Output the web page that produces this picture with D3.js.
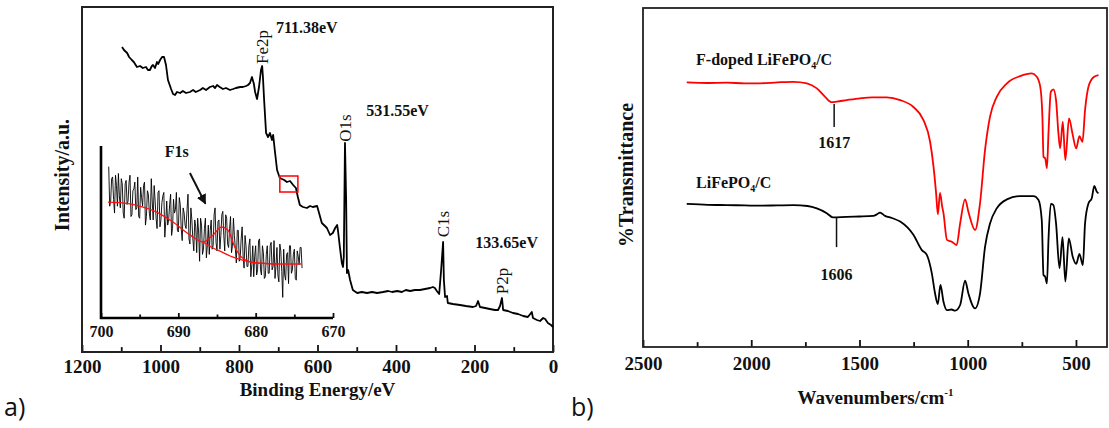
<!DOCTYPE html>
<html>
<head>
<meta charset="utf-8">
<script src="https://cdn.jsdelivr.net/npm/d3@7"></script>
<style>
  body { margin: 0; background: #fff; }
  svg { display: block; }
  svg text { font-family: "Liberation Serif", "Times New Roman", serif; }
</style>
</head>
<body>
<svg width="1109" height="428"></svg>
<script>
// ---- a) XPS survey spectrum (binding energy / eV, intensity a.u.)
var xpsEnergy = [1098, 1093, 1085, 1080, 1073, 1068, 1060, 1052, 1045, 1037, 1032, 1027, 1022, 1019, 1014, 1009, 1006, 1001, 996, 991,
  986, 981, 973, 968, 963, 958, 950, 943, 935, 925, 917, 910, 899, 892, 884, 874, 866, 861, 856, 849,
  841, 833, 823, 815, 808, 797, 790, 782, 777, 772, 767, 762, 759, 754, 749, 744, 741, 739, 736, 731,
  726, 721, 716, 713, 708, 703, 696, 685, 678, 670, 662, 655, 650, 645, 637, 627, 619, 612, 601, 596,
  589, 581, 576, 568, 561, 555, 550, 548, 543, 538, 535, 533, 530, 527, 525, 522, 517, 510, 499, 487,
  474, 461, 448, 433, 420, 410, 397, 385, 375, 364, 352, 339, 326, 313, 306, 301, 296, 290, 285, 280,
  278, 275, 270, 268, 255, 237, 222, 204, 196, 191, 186, 173, 161, 148, 140, 135, 130, 127, 115, 102,
  89, 76, 64, 56, 54, 51, 41, 33, 25, 20, 13, 5, 0];
var xpsIntensity = [305, 302, 299, 295, 292, 290, 285, 286, 284, 285, 282, 282, 286, 287, 284, 290, 288, 292, 295, 295,
  287, 272, 263, 258, 257, 260, 259, 261, 259, 260, 262, 260, 262, 264, 262, 265, 266, 264, 267, 265,
  263, 264, 262, 263, 264, 265, 265, 266, 267, 269, 275, 268, 260, 253, 265, 282, 286, 275, 252, 219,
  215, 219, 212, 217, 199, 182, 174, 172, 170, 171, 167, 164, 155, 147, 145, 144, 146, 145, 146, 139,
  129, 126, 124, 117, 119, 124, 127, 122, 105, 89, 85, 95, 209, 152, 79, 82, 72, 62, 59, 60,
  59, 60, 59, 60, 61, 60, 61, 60, 62, 61, 62, 62, 63, 64, 65, 64, 61, 58, 82, 110,
  72, 55, 56, 49, 48, 47, 46, 45, 46, 51, 45, 44, 43, 42, 42, 46, 54, 42, 41, 39,
  38, 36, 35, 39, 40, 34, 32, 31, 34, 33, 29, 27, 25];
var xpsTicks = [1200, 1000, 800, 600, 400, 200, 0];
var xpsMinorTicks = [1100, 900, 700, 500, 300, 100];

// inset: F1s region
var f1sEnergy = [
  699, 698.875, 698.75, 698.625, 698.5, 698.375, 698.25, 698.125,
  698, 697.875, 697.75, 697.625, 697.5, 697.375, 697.25, 697.125,
  697, 696.875, 696.75, 696.625, 696.5, 696.375, 696.25, 696.125,
  696, 695.875, 695.75, 695.625, 695.5, 695.375, 695.25, 695.125,
  695, 694.875, 694.75, 694.625, 694.5, 694.375, 694.25, 694.125,
  694, 693.875, 693.75, 693.625, 693.5, 693.375, 693.25, 693.125,
  693, 692.875, 692.75, 692.625, 692.5, 692.375, 692.25, 692.125,
  692, 691.875, 691.75, 691.625, 691.5, 691.375, 691.25, 691.125,
  691, 690.875, 690.75, 690.625, 690.5, 690.375, 690.25, 690.125,
  690, 689.875, 689.75, 689.625, 689.5, 689.375, 689.25, 689.125,
  689, 688.875, 688.75, 688.625, 688.5, 688.375, 688.25, 688.125,
  688, 687.875, 687.75, 687.625, 687.5, 687.375, 687.25, 687.125,
  687, 686.875, 686.75, 686.625, 686.5, 686.375, 686.25, 686.125,
  686, 685.875, 685.75, 685.625, 685.5, 685.375, 685.25, 685.125,
  685, 684.875, 684.75, 684.625, 684.5, 684.375, 684.25, 684.125,
  684, 683.875, 683.75, 683.625, 683.5, 683.375, 683.25, 683.125,
  683, 682.875, 682.75, 682.625, 682.5, 682.375, 682.25, 682.125,
  682, 681.875, 681.75, 681.625, 681.5, 681.375, 681.25, 681.125,
  681, 680.875, 680.75, 680.625, 680.5, 680.375, 680.25, 680.125,
  680, 679.875, 679.75, 679.625, 679.5, 679.375, 679.25, 679.125,
  679, 678.875, 678.75, 678.625, 678.5, 678.375, 678.25, 678.125,
  678, 677.875, 677.75, 677.625, 677.5, 677.375, 677.25, 677.125,
  677, 676.875, 676.75, 676.625, 676.5, 676.375, 676.25, 676.125,
  676, 675.875, 675.75, 675.625, 675.5, 675.375, 675.25, 675.125,
  675, 674.875, 674.75, 674.625, 674.5, 674.375, 674.25, 674.125,
  674];
var f1sCounts = [
  88, 65, 68, 81, 82, 69, 61, 83, 77, 65, 84, 71, 64, 81, 78, 61,
  58, 78, 80, 66, 68, 79, 83, 59, 60, 74, 75, 79, 63, 64, 82, 59,
  58, 76, 70, 65, 77, 79, 54, 59, 74, 72, 61, 57, 81, 68, 57, 77,
  68, 58, 52, 73, 74, 53, 57, 67, 71, 73, 47, 56, 68, 54, 57, 66,
  72, 48, 52, 69, 61, 63, 73, 51, 50, 70, 66, 52, 45, 64, 61, 54,
  52, 63, 72, 46, 43, 64, 57, 46, 39, 57, 53, 38, 58, 50, 33, 58,
  54, 37, 40, 52, 58, 35, 42, 54, 37, 51, 57, 40, 42, 60, 64, 44,
  39, 56, 57, 40, 48, 60, 62, 48, 39, 60, 58, 43, 41, 52, 59, 38,
  42, 58, 48, 40, 32, 51, 51, 33, 35, 46, 53, 36, 29, 48, 42, 30,
  30, 42, 46, 24, 31, 42, 24, 36, 42, 25, 28, 45, 46, 28, 25, 42,
  38, 23, 24, 37, 42, 26, 26, 42, 44, 28, 30, 45, 23, 30, 41, 25,
  21, 43, 39, 27, 12, 40, 25, 22, 37, 38, 20, 42, 42, 26, 28, 37,
  40, 23, 22, 39, 36, 31, 41, 41, 29];
var fitEnergy = [699.1, 697.2, 695.0, 692.8, 690.7, 688.5, 686.8, 685.5, 684.4, 683.6, 682.7, 681.7, 679.9, 677.3, 674.1];
var fitCounts = [67.4, 66.9, 65.1, 61.6, 55.8, 48.3, 44.2, 48.3, 52.9, 51.2, 41.3, 34.9, 32.0, 31.4, 31.4];
var baseEnergy = [686.8, 685.5, 684.4, 683.0, 681.7, 680.0, 677.3];
var baseCounts = [44.2, 40.7, 38.4, 35.5, 33.7, 32.0, 31.4];
var insetTicks = [700, 690, 680, 670];
var insetMinorTicks = [695, 685, 675];

// ---- b) FTIR spectra (wavenumber / cm-1, transmittance)
var waveDoped = [2298, 2200, 2113, 2030, 1959, 1880, 1805, 1743, 1697, 1659, 1628, 1605, 1559, 1497, 1440, 1405, 1374, 1312, 1251, 1205,
  1174, 1158, 1146, 1138, 1128, 1118, 1112, 1096, 1074, 1051, 1035, 1012, 997, 966, 943, 920, 897, 866, 819, 758,
  704, 681, 665, 655, 650, 642, 634, 627, 616, 604, 592, 581, 573, 561, 549, 532, 515, 499, 484, 470,
  458, 442, 419, 396];
var transDoped = [88.2, 88.0, 88.1, 87.9, 87.9, 88.2, 88.4, 87.9, 86.2, 83.4, 81.6, 81.8, 82.3, 82.9, 83.2, 83.2, 83.2, 82.3, 80.0, 75.7,
  68.5, 60.1, 51.2, 44.2, 51.4, 46.8, 44.6, 35.7, 35.1, 34.0, 41.2, 49.2, 45.1, 39.0, 48.0, 65.7, 76.8, 83.4, 87.9, 90.3,
  91.2, 90.1, 86.8, 76.8, 63.4, 62.9, 59.6, 71.2, 85.1, 85.9, 82.3, 71.2, 66.2, 75.1, 62.3, 76.2, 70.7, 66.2, 70.3, 68.4,
  79.0, 86.8, 89.9, 90.6];
var wavePure = [2298, 2200, 2113, 2030, 1959, 1880, 1805, 1740, 1697, 1651, 1623, 1559, 1500, 1436, 1420, 1405, 1382, 1350, 1312, 1251,
  1212, 1189, 1166, 1151, 1138, 1126, 1112, 1096, 1075, 1058, 1035, 1012, 997, 966, 943, 920, 897, 866, 819, 758,
  696, 673, 658, 650, 642, 634, 627, 616, 604, 592, 576, 562, 549, 533, 515, 499, 484, 468, 458, 442,
  427, 415, 404, 396];
var transPure = [47.7, 47.4, 47.3, 47.2, 47.1, 47.2, 47.3, 47.0, 46.2, 44.6, 43.2, 43.4, 43.5, 43.7, 44.2, 44.8, 43.7, 43.0, 41.8, 37.4,
  32.3, 30.7, 24.6, 17.9, 14.3, 20.7, 15.1, 12.3, 12.5, 12.1, 14.0, 22.1, 17.9, 12.9, 17.9, 33.4, 41.2, 46.2, 49.2, 50.3,
  50.3, 49.0, 42.3, 24.0, 23.4, 21.2, 35.7, 47.7, 47.3, 41.2, 26.2, 36.6, 21.8, 36.2, 30.1, 27.7, 31.0, 27.3, 41.2, 47.9,
  49.6, 53.7, 51.8, 51.2];
var ftirTicks = [2500, 2000, 1500, 1000, 500];
var ftirMinorTicks = [2250, 1750, 1250, 750];

var svg = d3.select("svg");

function zip(a, b) { return a.map(function (d, i) { return [d, b[i]]; }); }

// ticks point inward (up), minor ticks unlabeled in their own group
function bottomAxis(g, scale, major, minor, size, pad, fontSize) {
  g.append("g").call(d3.axisBottom(scale).tickValues(minor).tickSize(-size * 0.7).tickFormat(""));
  var gm = g.append("g").call(d3.axisBottom(scale).tickValues(major).tickSize(-size).tickPadding(pad)
    .tickFormat(d3.format("d")));
  g.selectAll(".domain").remove();
  g.selectAll("line").attr("stroke", "#111").attr("stroke-width", 1.8);
  gm.selectAll("text")
    .attr("fill", "#111")
    .style("font-family", "'Liberation Serif', serif")
    .style("font-weight", "bold")
    .style("font-size", fontSize + "px");
}

// ================= panel a =================
var xA = d3.scaleLinear().domain([1200, 0]).range([82, 553]);
var yA = d3.scaleLinear().domain([0, 345]).range([352, 7]);

var gA = svg.append("g");
bottomAxis(gA.append("g").attr("transform", "translate(0,352)"), xA, xpsTicks, xpsMinorTicks, 7, 8, 19);

gA.append("rect")
  .attr("x", xA(1200)).attr("y", yA(345))
  .attr("width", xA(0) - xA(1200)).attr("height", yA(0) - yA(345))
  .attr("fill", "none").attr("stroke", "#222").attr("stroke-width", 2);

var lineA = d3.line().x(function (d) { return xA(d[0]); }).y(function (d) { return yA(d[1]); });
gA.append("path")
  .datum(zip(xpsEnergy, xpsIntensity))
  .attr("d", lineA)
  .attr("fill", "none").attr("stroke", "#000").attr("stroke-width", 1.8).attr("stroke-linejoin", "round");

// red box marking the F1s region
gA.append("rect")
  .attr("x", xA(696)).attr("y", yA(176))
  .attr("width", xA(650) - xA(696)).attr("height", yA(160) - yA(176))
  .attr("fill", "none").attr("stroke", "#ff0000").attr("stroke-width", 1.5);

function peakLabel(text, e, inten) {
  gA.append("text")
    .attr("transform", "translate(" + xA(e) + "," + yA(inten) + ") rotate(-90)")
    .attr("text-anchor", "middle").attr("dy", "0.35em")
    .attr("font-size", 17).attr("fill", "#111").text(text);
}
peakLabel("Fe2p", 741, 305);
peakLabel("O1s", 530, 224);
peakLabel("C1s", 280, 128);
peakLabel("P2p", 130, 71);

function evLabel(text, e, inten) {
  gA.append("text")
    .attr("x", xA(e)).attr("y", yA(inten))
    .attr("font-size", 16).attr("font-weight", "bold").attr("fill", "#111").text(text);
}
evLabel("711.38eV", 706, 319);
evLabel("531.55eV", 476, 236);
evLabel("133.65eV", 198, 104);

gA.append("text")
  .attr("x", (xA(1200) + xA(0)) / 2).attr("y", 396)
  .attr("text-anchor", "middle").attr("font-size", 19).attr("font-weight", "bold").attr("fill", "#111")
  .text("Binding Energy/eV");
gA.append("text")
  .attr("transform", "translate(62,175) rotate(-90)")
  .attr("text-anchor", "middle").attr("dy", "0.35em")
  .attr("font-size", 20).attr("font-weight", "bold").attr("fill", "#111")
  .text("Intensity/a.u.");

// ---- inset
var xI = d3.scaleLinear().domain([700, 670]).range([101, 333]);
var yI = d3.scaleLinear().domain([0, 100]).range([318, 146]);
var gI = svg.append("g");

bottomAxis(gI.append("g").attr("transform", "translate(0,318)"), xI, insetTicks, insetMinorTicks, 5, 8, 16);
gI.append("path")
  .attr("d", "M" + xI(700) + "," + yI(100) + "V" + yI(0) + "H" + xI(670))
  .attr("fill", "none").attr("stroke", "#000").attr("stroke-width", 2.6);

var lineI = d3.line().x(function (d) { return xI(d[0]); }).y(function (d) { return yI(d[1]); });
gI.append("path")
  .datum(zip(f1sEnergy, f1sCounts))
  .attr("d", lineI)
  .attr("fill", "none").attr("stroke", "#000").attr("stroke-width", 0.9);
var smoothI = d3.line().x(function (d) { return xI(d[0]); }).y(function (d) { return yI(d[1]); })
  .curve(d3.curveMonotoneX);
gI.append("path")
  .datum(zip(baseEnergy, baseCounts))
  .attr("d", smoothI)
  .attr("fill", "none").attr("stroke", "#ff1010").attr("stroke-width", 1.3);
gI.append("path")
  .datum(zip(fitEnergy, fitCounts))
  .attr("d", smoothI)
  .attr("fill", "none").attr("stroke", "#ff1010").attr("stroke-width", 1.3);

svg.append("defs").append("marker")
  .attr("id", "head").attr("viewBox", "0 0 10 10").attr("refX", 9).attr("refY", 5)
  .attr("markerWidth", 5).attr("markerHeight", 5).attr("orient", "auto")
  .append("path").attr("d", "M0,0L10,5L0,10z").attr("fill", "#111");
gI.append("line")
  .attr("x1", xI(688.5)).attr("y1", yI(84.3))
  .attr("x2", xI(686.5)).attr("y2", yI(66.5))
  .attr("stroke", "#111").attr("stroke-width", 2).attr("marker-end", "url(#head)");
gI.append("text")
  .attr("x", xI(690.2)).attr("y", yI(93.5))
  .attr("text-anchor", "middle").attr("font-size", 16).attr("font-weight", "bold").attr("fill", "#111")
  .text("F1s");

// ================= panel b =================
var xB = d3.scaleLinear().domain([2500, 352]).range([643, 1108]);
var yB = d3.scaleLinear().domain([0, 113]).range([347, 8]);
var gB = svg.append("g");

bottomAxis(gB.append("g").attr("transform", "translate(0,347)"), xB, ftirTicks, ftirMinorTicks, 7, 10, 19);
gB.append("rect")
  .attr("x", xB(2500)).attr("y", yB(113))
  .attr("width", xB(352) - xB(2500) - 1).attr("height", yB(0) - yB(113))
  .attr("fill", "none").attr("stroke", "#222").attr("stroke-width", 1.8);

var lineB = d3.line().x(function (d) { return xB(d[0]); }).y(function (d) { return yB(d[1]); })
  .curve(d3.curveMonotoneX);
gB.append("path")
  .datum(zip(wavePure, transPure))
  .attr("d", lineB)
  .attr("fill", "none").attr("stroke", "#000").attr("stroke-width", 1.8);
gB.append("path")
  .datum(zip(waveDoped, transDoped))
  .attr("d", lineB)
  .attr("fill", "none").attr("stroke", "#ff0000").attr("stroke-width", 1.8);

// band markers: [wavenumber, line top, line bottom, label baseline]
[[1617, 81, 73.3, 148], [1606, 43.2, 33.3, 280]].forEach(function (m) {
  gB.append("line")
    .attr("x1", xB(m[0])).attr("x2", xB(m[0]))
    .attr("y1", yB(m[1])).attr("y2", yB(m[2]))
    .attr("stroke", "#111").attr("stroke-width", 1.5);
  gB.append("text")
    .attr("x", xB(m[0])).attr("y", m[3])
    .attr("text-anchor", "middle").attr("font-size", 16).attr("font-weight", "bold").attr("fill", "#111")
    .text(m[0]);
});

function sampleLabel(prefix, y) {
  var t = gB.append("text")
    .attr("x", xB(2255)).attr("y", y)
    .attr("font-size", 16).attr("font-weight", "bold").attr("fill", "#111");
  t.append("tspan").text(prefix + "LiFePO");
  t.append("tspan").attr("dy", 4).attr("font-size", 10).text("4");
  t.append("tspan").attr("dy", -4).text("/C");
}
sampleLabel("F-doped ", 65);
sampleLabel("", 188);

var xt = gB.append("text")
  .attr("x", (xB(2500) + xB(352)) / 2).attr("y", 404)
  .attr("text-anchor", "middle").attr("font-size", 19).attr("font-weight", "bold").attr("fill", "#111");
xt.append("tspan").text("Wavenumbers/cm");
xt.append("tspan").attr("dy", -8).attr("font-size", 11).text("-1");

gB.append("text")
  .attr("transform", "translate(626,175) rotate(-90)")
  .attr("text-anchor", "middle").attr("dy", "0.35em")
  .attr("font-size", 20).attr("font-weight", "bold").attr("fill", "#111")
  .text("%Transmittance");

// panel letters
svg.append("text").attr("x", 4).attr("y", 416)
  .style("font-family", "'Open Sans', sans-serif").attr("font-size", 25).attr("fill", "#111").text("a)");
svg.append("text").attr("x", 571).attr("y", 416)
  .style("font-family", "'Open Sans', sans-serif").attr("font-size", 25).attr("fill", "#111").text("b)");
</script>
</body>
</html>
